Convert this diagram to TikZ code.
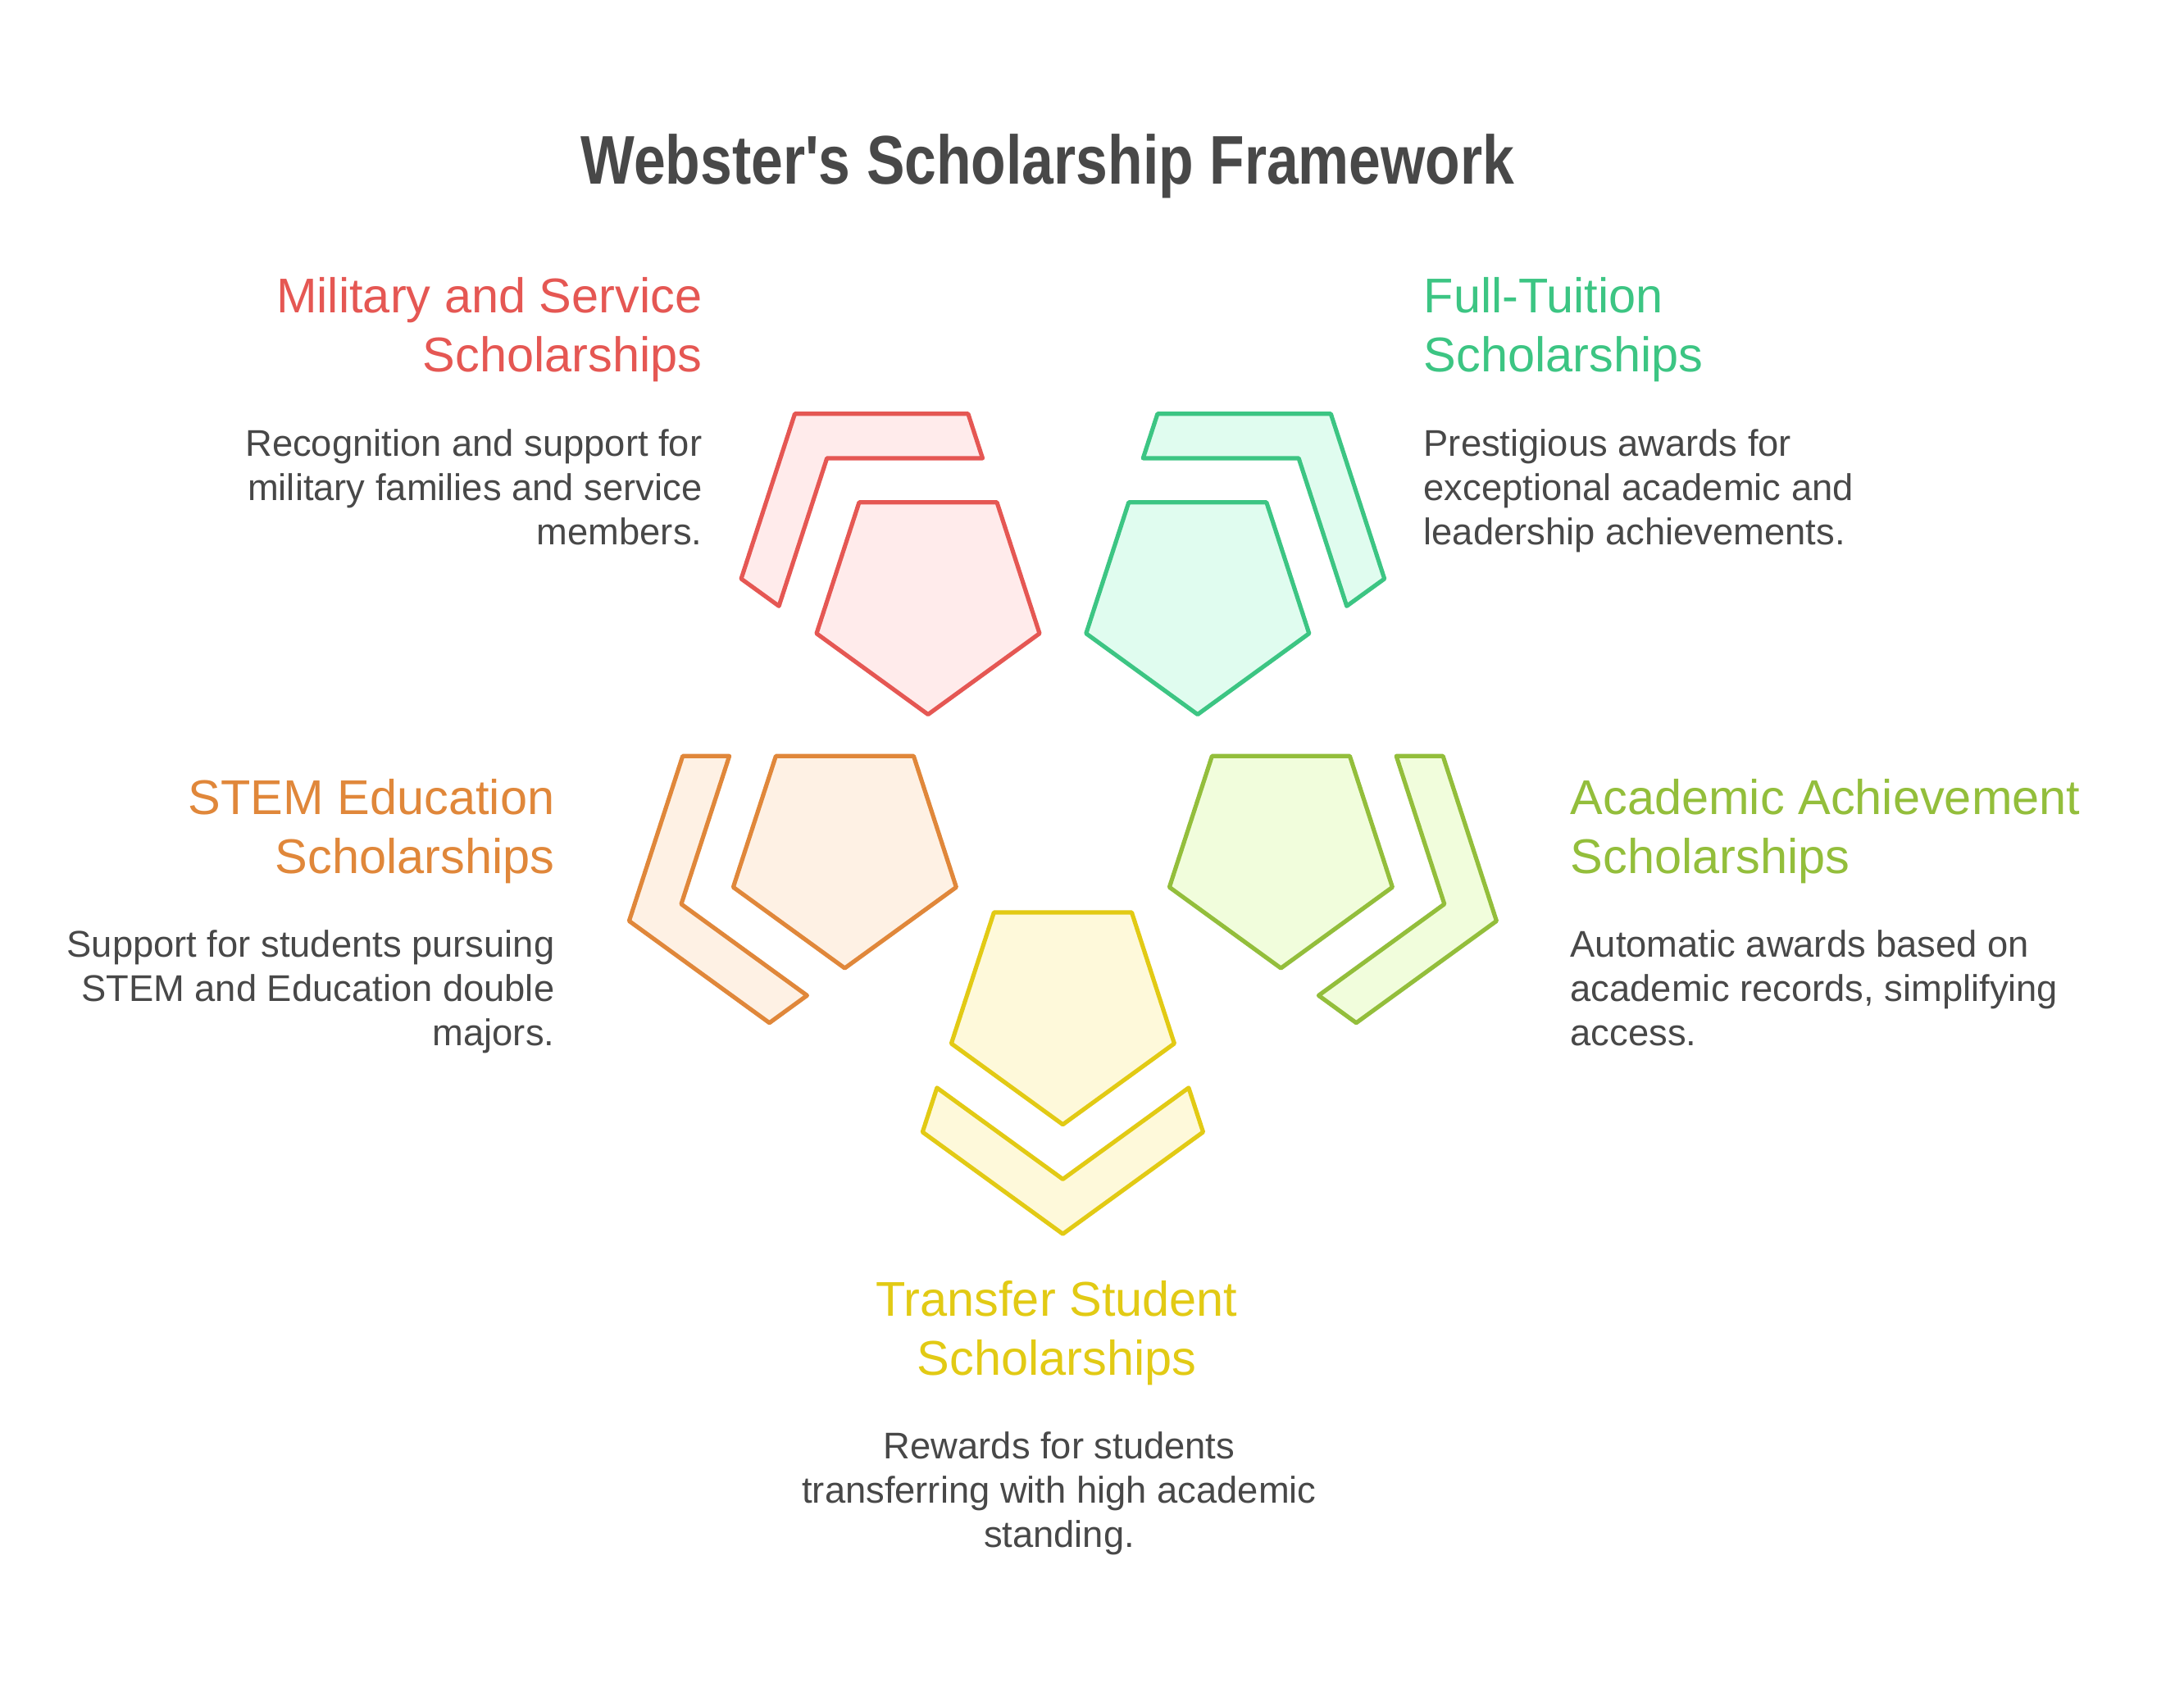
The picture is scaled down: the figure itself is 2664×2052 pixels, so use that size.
\documentclass[tikz,border=0pt]{standalone}
\usepackage{fontspec}
\setmainfont{Liberation Sans}
\newfontfamily\titlefont{Liberation Sans}[FakeStretch=0.83]
\definecolor{txt}{HTML}{484848}
\definecolor{redS}{HTML}{E55753}
\definecolor{redF}{HTML}{FFEBEB}
\definecolor{grnS}{HTML}{3CC583}
\definecolor{grnF}{HTML}{E0FCEF}
\definecolor{orgS}{HTML}{E0873A}
\definecolor{orgF}{HTML}{FEF1E4}
\definecolor{limS}{HTML}{93BE3B}
\definecolor{limF}{HTML}{F1FDDC}
\definecolor{yelS}{HTML}{E2CA14}
\definecolor{yelF}{HTML}{FEF9DA}
\begin{document}
\begin{tikzpicture}[x=0.3pt,y=-0.3pt,
  shp/.style={line width=1.55pt, line join=round, draw=#1S, fill=#1F},
  hd/.style={inner sep=0pt, text=#1S, font=\fontsize{17.85pt}{21pt}\selectfont},
  ds/.style={inner sep=0pt, text=txt, font=\fontsize{13.6pt}{16pt}\selectfont},
  ttl/.style={inner sep=0pt, text=txt, font=\titlefont\bfseries\fontsize{25.2pt}{30pt}\selectfont}]
\useasboundingbox (0,0) rectangle (2664,2052);
\fill[white] (0,0) rectangle (2664,2052);

% title
\node[ttl, anchor=base] (title) at (1278,224) {Webster's Scholarship Framework};

% ---- red (Military and Service)
\begin{scope}[shift={(1132,728.5)}]
\draw[shp=red] (0,143) -- (136,44.2) -- (84.05,-115.7) -- (-84.05,-115.7) -- (-136,44.2) -- cycle;
\draw[shp=red] (48.9,-223.7) -- (-162.5,-223.7) -- (-227.9,-22.5) -- (-181.9,10.8) -- (-123.3,-169.6) -- (66.5,-169.6) -- cycle;
\end{scope}
% ---- green (Full-Tuition)
\begin{scope}[shift={(1460.8,728.5)}]
\draw[shp=grn] (0,143) -- (136,44.2) -- (84.05,-115.7) -- (-84.05,-115.7) -- (-136,44.2) -- cycle;
\draw[shp=grn] (-48.9,-223.7) -- (162.5,-223.7) -- (227.9,-22.5) -- (181.9,10.8) -- (123.3,-169.6) -- (-66.5,-169.6) -- cycle;
\end{scope}
% ---- orange (STEM)
\begin{scope}[shift={(1030.4,1038)}]
\draw[shp=org] (0,143) -- (136,44.2) -- (84.05,-115.7) -- (-84.05,-115.7) -- (-136,44.2) -- cycle;
\draw[shp=org] (-197.7,-115.7) -- (-263,85.4) -- (-91.9,209.7) -- (-46,176.3) -- (-199.4,64.8) -- (-140.8,-115.7) -- cycle;
\end{scope}
% ---- lime (Academic Achievement)
\begin{scope}[shift={(1562.4,1038)}]
\draw[shp=lim] (0,143) -- (136,44.2) -- (84.05,-115.7) -- (-84.05,-115.7) -- (-136,44.2) -- cycle;
\draw[shp=lim] (197.7,-115.7) -- (263,85.4) -- (91.9,209.7) -- (46,176.3) -- (199.4,64.8) -- (140.8,-115.7) -- cycle;
\end{scope}
% ---- yellow (Transfer)
\begin{scope}[shift={(1296.4,1228.7)}]
\draw[shp=yel] (0,143) -- (136,44.2) -- (84.05,-115.7) -- (-84.05,-115.7) -- (-136,44.2) -- cycle;
\draw[shp=yel] (-171.1,152.2) -- (0,276.5) -- (171.1,152.2) -- (153.5,98.2) -- (0,209.7) -- (-153.5,98.2) -- cycle;
\end{scope}

% ---- texts: red
\node[hd=red, anchor=base east] (rh1) at (857,381) {Military and Service};
\node[hd=red, anchor=base east] (rh2) at (857,453) {Scholarships};
\node[ds, anchor=base east] (rd1) at (857,556) {Recognition and support for};
\node[ds, anchor=base east] (rd2) at (857,610) {military families and service};
\node[ds, anchor=base east] (rd3) at (857,664) {members.};
% green
\node[hd=grn, anchor=base west] (gh1) at (1736,381) {Full-Tuition};
\node[hd=grn, anchor=base west] (gh2) at (1736,453) {Scholarships};
\node[ds, anchor=base west] (gd1) at (1736,556) {Prestigious awards for};
\node[ds, anchor=base west] (gd2) at (1736,610) {exceptional academic and};
\node[ds, anchor=base west] (gd3) at (1736,664) {leadership achievements.};
% orange
\node[hd=org, anchor=base east] (oh1) at (677,993) {STEM Education};
\node[hd=org, anchor=base east] (oh2) at (677,1065) {Scholarships};
\node[ds, anchor=base east] (od1) at (677,1167.5) {Support for students pursuing};
\node[ds, anchor=base east] (od2) at (677,1221.5) {STEM and Education double};
\node[ds, anchor=base east] (od3) at (677,1275.5) {majors.};
% lime
\node[hd=lim, anchor=base west] (lh1) at (1915,993) {Academic Achievement};
\node[hd=lim, anchor=base west] (lh2) at (1915,1065) {Scholarships};
\node[ds, anchor=base west] (ld1) at (1915,1167.5) {Automatic awards based on};
\node[ds, anchor=base west] (ld2) at (1915,1221.5) {academic records, simplifying};
\node[ds, anchor=base west] (ld3) at (1915,1275.5) {access.};
% yellow
\node[hd=yel, anchor=base] (yh1) at (1289,1605) {Transfer Student};
\node[hd=yel, anchor=base] (yh2) at (1289,1677) {Scholarships};
\node[ds, anchor=base] (yd1) at (1292,1779) {Rewards for students};
\node[ds, anchor=base] (yd2) at (1292,1833) {transferring with high academic};
\node[ds, anchor=base] (yd3) at (1292,1887) {standing.};
\end{tikzpicture}
\end{document}
